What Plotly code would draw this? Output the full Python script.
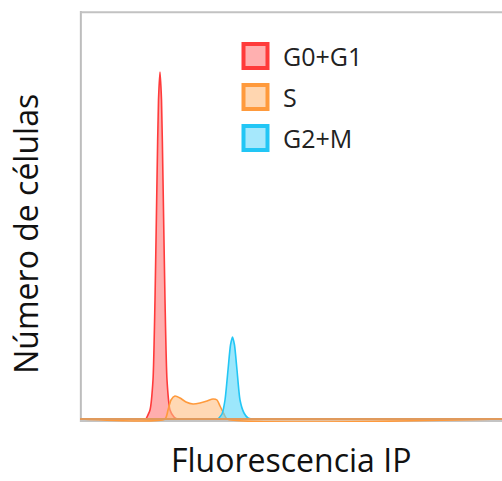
import plotly.graph_objects as go

# Fluorescence channel (arbitrary units) and cell counts
g01_x = [66, 70, 73, 75, 77, 78.5, 80, 81.5, 83, 85, 87, 90, 94, 97]
g01_y = [0, 9, 39, 119, 239, 319, 347, 319, 239, 119, 39, 9, 2, 0]

s_x = [0, 85, 88, 91, 95, 100, 106, 113, 120, 127, 133, 137, 140, 144, 147, 422]
s_y = [0, 0, 9, 19, 23, 21, 17, 15, 16, 18, 20, 19, 13, 5, 0, 0]

g2m_x = [138, 142, 145, 148, 150.5, 152.5, 154.5, 157, 160, 164, 168, 172]
g2m_y = [0, 5, 19, 49, 74, 82, 74, 49, 19, 6, 1, 0]

labels = ["G0+G1", "S", "G2+M"]
line_colors = ["#ff3b3b", "#ff9a3c", "#22c6f5"]
fill_colors = ["rgba(255,120,120,0.6)", "rgba(255,190,130,0.6)", "rgba(90,215,250,0.6)"]
legend_fill = ["#ffb0b0", "#ffd6b0", "#a6e8fc"]

x_title = "Fluorescencia IP"
y_title = "Número de células"

fig = go.Figure()
for xs, ys, lc, fc, name in zip([g01_x, s_x, g2m_x], [g01_y, s_y, g2m_y],
                                line_colors, fill_colors, labels):
    fig.add_trace(go.Scatter(x=xs, y=ys, mode="lines", fill="tozeroy",
                             line=dict(color=lc, width=1.6, shape="spline", smoothing=0.6),
                             fillcolor=fc, name=name, showlegend=False,
                             hoverinfo="skip"))

# legend (manual)
leg_x = 175.5   # data units
leg_y = [363, 322, 281]
half = 12
for lbl, lc, lf, yy in zip(labels, line_colors, legend_fill, leg_y):
    fig.add_shape(type="rect", x0=leg_x - half, x1=leg_x + half,
                  y0=yy - half, y1=yy + half,
                  line=dict(color=lc, width=4), fillcolor=lf, layer="above")
    fig.add_annotation(x=201, y=yy, text=lbl, showarrow=False, xanchor="left",
                       yanchor="middle",
                       font=dict(family="Open Sans", size=25, color="#222222"))

# frame
fig.add_shape(type="line", xref="paper", yref="paper", x0=0.002, x1=0.002, y0=0, y1=1,
              line=dict(color="#bdbdbd", width=2), layer="below")
fig.add_shape(type="line", xref="paper", yref="paper", x0=0, x1=1, y0=0.997, y1=0.997,
              line=dict(color="#c2c2c2", width=2), layer="below")
fig.add_shape(type="line", x0=0, x1=422, y0=-2, y1=-2,
              line=dict(color="#c4c4c4", width=2), layer="below")
fig.add_shape(type="line", x0=0, x1=422, y0=0, y1=0,
              line=dict(color="#e09a5c", width=2.2), layer="above")

fig.add_annotation(xref="paper", yref="paper", x=0.5, y=0, yshift=-61,
                   text=x_title, showarrow=False, xanchor="center", yanchor="bottom",
                   font=dict(family="Open Sans", size=32, color="#111111"))
fig.add_annotation(xref="paper", yref="paper", x=0, xshift=-54, y=0.458,
                   text=y_title, showarrow=False, textangle=-90,
                   xanchor="center", yanchor="middle",
                   font=dict(family="Open Sans", size=32, color="#111111"))

fig.update_xaxes(range=[0, 422], visible=False, fixedrange=True)
fig.update_yaxes(range=[-3, 408], visible=False, fixedrange=True)
fig.update_layout(width=502, height=481, margin=dict(l=80, r=0, t=11, b=59),
                  plot_bgcolor="white", paper_bgcolor="white", showlegend=False)

fig.write_html("out.html", config={"displayModeBar": False})
